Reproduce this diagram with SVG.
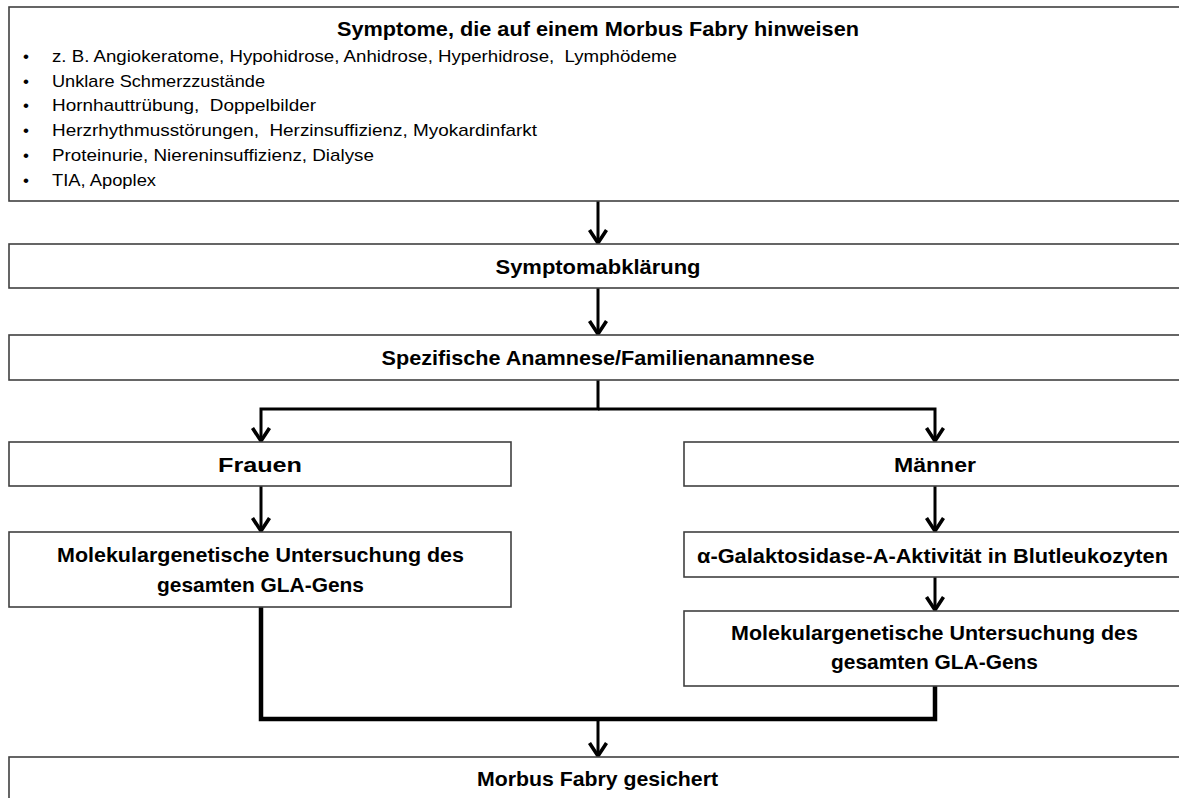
<svg xmlns="http://www.w3.org/2000/svg" width="1179" height="798" viewBox="0 0 1179 798">
<defs>
<style>
.box{fill:#fff;stroke:#404040;stroke-width:1.6}
.t{font-family:"Liberation Sans",Arial,sans-serif;font-weight:bold;font-size:21px;fill:#000;text-anchor:middle}
.b{font-family:"Liberation Sans",Arial,sans-serif;font-size:17px;fill:#000}
.c{fill:none;stroke:#000;stroke-width:3;stroke-linejoin:miter}
.m{fill:none;stroke:#000;stroke-width:4.5;stroke-linejoin:miter}
</style>
<marker id="arr" markerUnits="userSpaceOnUse" markerWidth="24" markerHeight="24" refX="16" refY="10" orient="auto" viewBox="0 0 24 20">
<path d="M3,1.5 L16,10 L3,18.5" fill="none" stroke="#000" stroke-width="3.6" stroke-linejoin="miter"/>
</marker>
</defs>
<rect width="1179" height="798" fill="#fff"/>
<g id="connectors">
<path class="c" d="M598,201 V243" marker-end="url(#arr)"/>
<path class="c" d="M598,288 V334" marker-end="url(#arr)"/>
<path class="c" d="M598,380 V409 H261 V441" marker-end="url(#arr)"/>
<path class="c" d="M598,409 H935 V441" marker-end="url(#arr)"/>
<path class="c" d="M261,486 V531" marker-end="url(#arr)"/>
<path class="c" d="M935,486 V531" marker-end="url(#arr)"/>
<path class="c" d="M935,577 V610" marker-end="url(#arr)"/>
<path class="m" d="M261,607 V719 H935 V686"/>
<path class="c" d="M598,719 V756" marker-end="url(#arr)"/>
</g>
<g id="symptome">
<rect class="box" x="9" y="7" width="1190" height="194"/>
<text class="t" x="598" y="36" textLength="522" lengthAdjust="spacingAndGlyphs">Symptome, die auf einem Morbus Fabry hinweisen</text>
<g class="b">
<text x="23" y="62">•</text><text x="52" y="62" textLength="625" lengthAdjust="spacingAndGlyphs">z. B. Angiokeratome, Hypohidrose, Anhidrose, Hyperhidrose,&#160; Lymphödeme</text>
<text x="23" y="87">•</text><text x="52" y="87" textLength="213" lengthAdjust="spacingAndGlyphs">Unklare Schmerzzustände</text>
<text x="23" y="111">•</text><text x="52" y="111" textLength="264" lengthAdjust="spacingAndGlyphs">Hornhauttrübung,&#160; Doppelbilder</text>
<text x="23" y="136">•</text><text x="52" y="136" textLength="485" lengthAdjust="spacingAndGlyphs">Herzrhythmusstörungen,&#160; Herzinsuffizienz, Myokardinfarkt</text>
<text x="23" y="161">•</text><text x="52" y="161" textLength="322" lengthAdjust="spacingAndGlyphs">Proteinurie, Niereninsuffizienz, Dialyse</text>
<text x="23" y="186">•</text><text x="52" y="186" textLength="104" lengthAdjust="spacingAndGlyphs">TIA, Apoplex</text>
</g>
</g>
<g id="symptomabklaerung">
<rect class="box" x="9" y="244" width="1190" height="44"/>
<text class="t" x="598" y="274" textLength="205" lengthAdjust="spacingAndGlyphs">Symptomabklärung</text>
</g>
<g id="anamnese">
<rect class="box" x="9" y="335" width="1190" height="45"/>
<text class="t" x="598" y="365" textLength="433" lengthAdjust="spacingAndGlyphs">Spezifische Anamnese/Familienanamnese</text>
</g>
<g id="frauen">
<rect class="box" x="9" y="442" width="502" height="44"/>
<text class="t" x="260" y="472" textLength="84" lengthAdjust="spacingAndGlyphs">Frauen</text>
</g>
<g id="maenner">
<rect class="box" x="684" y="442" width="515" height="44"/>
<text class="t" x="935" y="472" textLength="82" lengthAdjust="spacingAndGlyphs">Männer</text>
</g>
<g id="gen-frauen">
<rect class="box" x="9" y="532" width="502" height="75"/>
<text class="t" x="260.5" y="562" textLength="407" lengthAdjust="spacingAndGlyphs">Molekulargenetische Untersuchung des</text>
<text class="t" x="260.5" y="592" textLength="207" lengthAdjust="spacingAndGlyphs">gesamten GLA-Gens</text>
</g>
<g id="galaktosidase">
<rect class="box" x="684" y="532" width="515" height="45"/>
<text class="t" x="932.5" y="563" textLength="471" lengthAdjust="spacingAndGlyphs">α-Galaktosidase-A-Aktivität in Blutleukozyten</text>
</g>
<g id="gen-maenner">
<rect class="box" x="684" y="611" width="515" height="75"/>
<text class="t" x="934.5" y="640" textLength="407" lengthAdjust="spacingAndGlyphs">Molekulargenetische Untersuchung des</text>
<text class="t" x="934.5" y="669" textLength="207" lengthAdjust="spacingAndGlyphs">gesamten GLA-Gens</text>
</g>
<g id="gesichert">
<rect class="box" x="9" y="757" width="1190" height="60"/>
<text class="t" x="597.5" y="786" textLength="241" lengthAdjust="spacingAndGlyphs">Morbus Fabry gesichert</text>
</g>
</svg>
